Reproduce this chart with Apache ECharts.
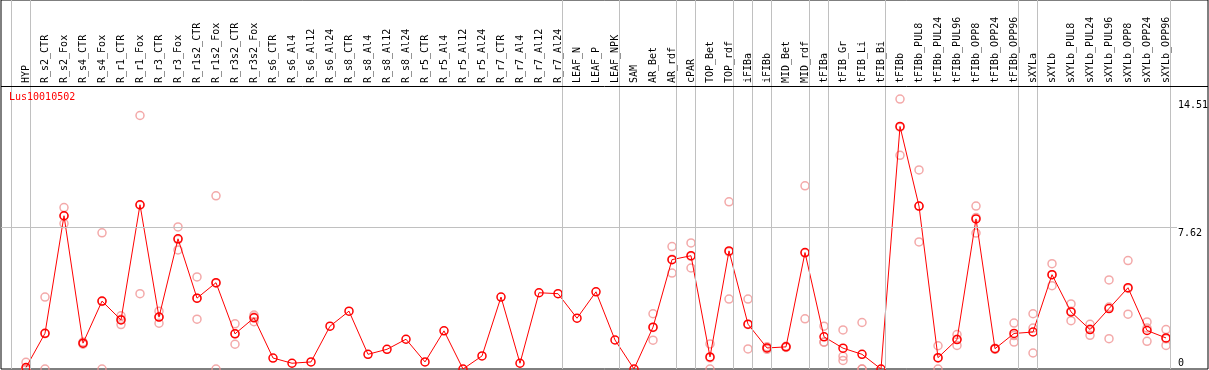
<!DOCTYPE html>
<html><head><meta charset="utf-8">
<script src="https://cdn.jsdelivr.net/npm/echarts@6/dist/echarts.min.js"></script>
<style>html,body{margin:0;padding:0;background:#fff}#c{width:1209px;height:370px}</style>
</head><body><div id="c"></div>
<script>
const geneId = 'Lus10010502';
const categories = ['HYP','R_s2_CTR','R_s2_Fox','R_s4_CTR','R_s4_Fox','R_r1_CTR','R_r1_Fox','R_r3_CTR','R_r3_Fox','R_r1s2_CTR','R_r1s2_Fox','R_r3s2_CTR','R_r3s2_Fox','R_s6_CTR','R_s6_Al4','R_s6_Al12','R_s6_Al24','R_s8_CTR','R_s8_Al4','R_s8_Al12','R_s8_Al24','R_r5_CTR','R_r5_Al4','R_r5_Al12','R_r5_Al24','R_r7_CTR','R_r7_Al4','R_r7_Al12','R_r7_Al24','LEAF_N','LEAF_P','LEAF_NPK','SAM','AR_Bet','AR_rdf','cPAR','TOP_Bet','TOP_rdf','iFIBa','iFIBb','MID_Bet','MID_rdf','tFIBa','tFIB_Gr','tFIB_Li','tFIB_Bi','tFIBb','tFIBb_PUL8','tFIBb_PUL24','tFIBb_PUL96','tFIBb_OPP8','tFIBb_OPP24','tFIBb_OPP96','sXYLa','sXYLb','sXYLb_PUL8','sXYLb_PUL24','sXYLb_PUL96','sXYLb_OPP8','sXYLb_OPP24','sXYLb_OPP96'];
const means = [0.08,1.92,8.24,1.39,3.65,2.64,8.83,2.79,7.0,3.81,4.64,1.89,2.75,0.59,0.31,0.38,2.3,3.11,0.79,1.06,1.6,0.38,2.05,0,0.70,3.87,0.31,4.1,4.05,2.73,4.15,1.56,0,2.25,5.88,6.09,0.65,6.35,2.41,1.13,1.19,6.26,1.73,1.12,0.79,0,13.04,8.76,0.61,1.58,8.07,1.09,1.91,1.99,5.07,3.07,2.12,3.25,4.37,2.07,1.67];
const rep1 = [0.36,3.87,8.68,1.45,7.32,2.86,13.63,3.11,7.64,4.95,9.31,2.43,2.9,null,null,null,null,null,null,null,null,null,null,null,null,null,null,null,null,null,null,null,null,2.97,6.58,6.78,1.35,8.99,3.76,1.2,1.22,9.85,2.3,2.1,2.5,null,14.51,10.7,1.25,1.85,8.76,1.12,2.47,2.97,5.66,3.5,2.4,4.79,5.83,2.53,2.12];
const rep2 = [0,1.9,8.22,1.39,3.63,2.67,8.81,2.8,6.96,3.8,4.61,1.9,2.8,null,null,null,null,null,null,null,null,null,null,null,null,null,null,null,null,null,null,null,null,2.23,5.9,6.06,0.6,6.3,2.39,1.13,1.19,6.23,1.45,0.68,0,null,13.0,8.75,0.58,1.6,8.14,1.09,1.8,2.2,5.07,3.1,2.15,3.33,4.33,2.2,1.62];
const rep3 = [0,0,7.82,1.33,0,2.39,4.05,2.46,6.4,2.68,0,1.33,2.54,null,null,null,null,null,null,null,null,null,null,null,null,null,null,null,null,null,null,null,null,1.55,5.16,5.43,0,3.76,1.08,1.06,1.16,2.7,1.44,0.46,0,null,11.49,6.83,0,1.27,7.31,1.06,1.45,0.86,4.48,2.6,1.81,1.63,2.95,1.49,1.27];
const yTicks = [0, 7.62, 14.51];
const groupEnds = [-1,0,28,31,34,35,37,38,39,41,42,45,52,53,60];

const FONT = 'DejaVu Sans Mono';
const Y_MAX = 19.839;      // value at the very top of the frame
const HEADER_Y = 15.215;   // value where the header separator sits
const repData = [];
[rep1, rep2, rep3].forEach(arr => arr.forEach((v, i) => { if (v !== null) repData.push([i, v]); }));

const chart = echarts.init(document.getElementById('c'), null, {renderer: 'canvas'});
chart.setOption({
  animation: false,
  backgroundColor: '#fff',
  title: {text: geneId, left: 9, top: 92, padding: 0, textStyle: {color: '#ff0000', fontFamily: FONT, fontSize: 10, fontWeight: 'normal'}},
  grid: {left: 1, right: 1, top: 0, bottom: 1, show: true, borderColor: '#000', borderWidth: 1, outerBoundsMode: 'none', containLabel: false},
  xAxis: {
    type: 'value', position: 'top', offset: -86, min: -1.3158, max: 62.21,
    axisLine: {show: false},
    axisTick: {show: false}, splitLine: {show: false},
    axisLabel: {customValues: categories.map((c, i) => i), formatter: v => categories[Math.round(v)] || '',
      rotate: 90, margin: 3, fontFamily: FONT, fontSize: 10, color: '#000', hideOverlap: false}
  },
  yAxis: {
    type: 'value', position: 'right', offset: -38, min: 0, max: Y_MAX,
    axisLine: {show: false}, axisTick: {show: false}, splitLine: {show: false},
    axisLabel: {customValues: yTicks, margin: 8, fontFamily: FONT, fontSize: 10, color: '#000',
      formatter: v => v === 0 ? '{b|0}' : '{t|' + v + '}',
      rich: {t: {fontFamily: FONT, fontSize: 10, color: '#000', padding: [12, 0, 0, 0]},
             b: {fontFamily: FONT, fontSize: 10, color: '#000', padding: [0, 0, 12, 0]}}}
  },
  series: [
    {
      type: 'scatter', name: 'reps', z: 2, data: repData,
      symbol: 'circle', symbolSize: 8,
      itemStyle: {color: 'rgba(0,0,0,0)', borderColor: '#f09494', borderWidth: 1.5},
      markLine: {
        silent: true, symbol: ['none', 'none'], label: {show: false},
        lineStyle: {color: '#c0c0c0', type: 'solid', width: 1},
        data: groupEnds.map(b => ({xAxis: b + 0.24}))
          .concat([[{coord: [-1.3158, 7.62]}, {coord: [60.58, 7.62]}]])
          .concat([{yAxis: HEADER_Y, lineStyle: {color: '#000', width: 1, type: 'solid'}}])
      }
    },
    {
      type: 'line', name: 'mean', z: 3, data: means.map((v, i) => [i, v]),
      symbol: 'circle', symbolSize: 8, showSymbol: true,
      lineStyle: {color: '#ff0000', width: 1},
      itemStyle: {color: 'rgba(0,0,0,0)', borderColor: '#ff0000', borderWidth: 1.5}
    }
  ]
});
</script></body></html>
